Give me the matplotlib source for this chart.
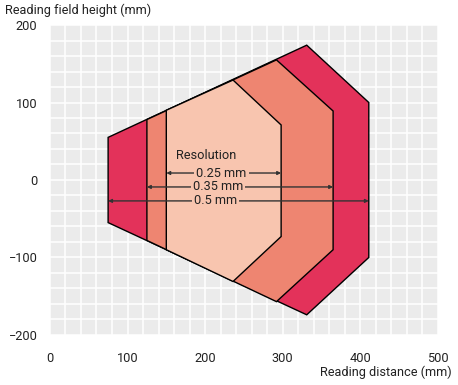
import numpy as np
import matplotlib.pyplot as plt
from matplotlib.patches import Polygon

plt.rcParams['font.family'] = ['Roboto', 'DejaVu Sans']

# reading field outlines (distance mm, height mm)
outer_x = [75, 331, 411, 411, 331, 75]
outer_y = [55, 174, 100, -100, -174, -55]
mid_x = [125, 292, 365, 365, 292, 125]
mid_y = [78, 155, 89, -90, -157, -78]
inner_x = [150, 236, 298, 298, 236, 150]
inner_y = [90, 129, 71, -73, -131, -90]

labels = ["0.25 mm", "0.35 mm", "0.5 mm"]
arrow_start = [150, 125, 75]
arrow_end = [298, 365, 411]
arrow_y = [9, -9, -27]
label_x = [221, 217, 213]

colors = ["#E3325A", "#EE8571", "#F8C5AF"]

fig = plt.figure(figsize=(4.58, 3.85), dpi=100)
ax = fig.add_axes([0.109, 0.130, 0.847, 0.805])
ax.set_facecolor("#EBEBEB")
for s in ax.spines.values():
    s.set_visible(False)

ax.set_xlim(0, 500)
ax.set_ylim(-200, 200)
ax.set_xticks([0, 100, 200, 300, 400, 500])
ax.set_yticks([-200, -100, 0, 100, 200])
ax.set_xticks(np.arange(0, 501, 20), minor=True)
ax.set_yticks(np.arange(-200, 201, 20), minor=True)
ax.grid(which="both", color="white", linewidth=1.1)
ax.set_axisbelow(True)
ax.tick_params(which="both", length=0)
ax.tick_params(axis="x", pad=12, labelsize=9.2, colors="#222222")
ax.tick_params(axis="y", pad=9, labelsize=9.2, colors="#222222")

for xs, ys, c in zip([outer_x, mid_x, inner_x], [outer_y, mid_y, inner_y], colors):
    ax.add_patch(Polygon(np.column_stack([xs, ys]), closed=True, facecolor=c,
                         edgecolor="black", linewidth=1.0, zorder=3))

for x0, x1, y, lab, lx in zip(arrow_start, arrow_end, arrow_y, labels, label_x):
    ax.annotate("", xy=(x0, y), xytext=(x1, y),
                arrowprops=dict(arrowstyle="<|-|>", color="#333333", lw=1.0,
                                mutation_scale=5, shrinkA=0, shrinkB=0),
                zorder=4)
    ax.text(lx, y, lab, ha="center", va="center", fontsize=9.2, color="#222222",
            bbox=dict(facecolor=colors[2], edgecolor="none", pad=1.5), zorder=5)

ax.text(201, 32, "Resolution", ha="center", va="center", fontsize=9.2,
        color="#222222", zorder=5)

fig.text(0.011, 0.974, "Reading field height (mm)", ha="left", va="center",
         fontsize=9.2, color="#222222")
fig.text(0.987, 0.034, "Reading distance (mm)", ha="right", va="center",
         fontsize=9.2, color="#222222")

fig.savefig("out.png", dpi=100)
